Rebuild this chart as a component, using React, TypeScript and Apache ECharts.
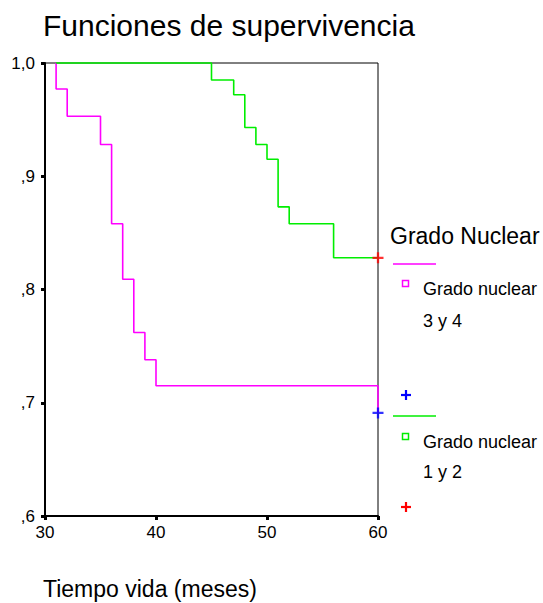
import React, { useEffect, useRef } from "react";
import * as echarts from "echarts";

// Kaplan-Meier curves (time in months, survival proportion after each step)
const magentaTimes = [31, 31, 32, 35, 36, 37, 38, 39, 40, 60];
const magentaSurv = [1.0, 0.977, 0.953, 0.928, 0.858, 0.809, 0.762, 0.738, 0.715, 0.691];
const greenTimes = [31, 45, 47, 48, 49, 50, 51, 52, 56, 60];
const greenSurv = [1.0, 0.985, 0.972, 0.943, 0.928, 0.915, 0.873, 0.858, 0.828, 0.828];
// censored marks
const censorBlue = [[60, 0.691]];
const censorRed = [[60, 0.828]];

const xTicks = [30, 40, 50, 60];
const yTickLabels: Record<string, string> = { "0.6": ",6", "0.7": ",7", "0.8": ",8", "0.9": ",9", "1": "1,0" };

const titleText = "Funciones de supervivencia";
const xName = "Tiempo vida (meses)";
const legendTitle = "Grado Nuclear";
const legendItems = ["Grado nuclear", "3 y 4", "Grado nuclear", "1 y 2"];

const FONT = "'Liberation Sans', Arial, sans-serif";
const CROSS = "path://M0,4.75H12V7.25H0ZM4.75,0H7.25V12H4.75Z";

export default function App() {
  const ref = useRef<HTMLDivElement>(null);
  useEffect(() => {
    if (!ref.current) return;
    const chart = echarts.init(ref.current, undefined, { renderer: "svg" });
    const mag = magentaTimes.map((t, i) => [t, magentaSurv[i]]);
    const grn = greenTimes.map((t, i) => [t, greenSurv[i]]);
    const txt = (text: string, x: number, y: number, size: number, extra: any = {}) => ({
      type: "text",
      x,
      y,
      ...extra,
      style: { text, fill: "#000", font: `${size}px ${FONT}`, verticalAlign: "middle", align: "left" },
    });
    const cross = (cx: number, cy: number, color: string) => ({
      type: "group",
      children: [
        { type: "line", shape: { x1: cx - 5, y1: cy, x2: cx + 5, y2: cy }, style: { stroke: color, lineWidth: 2.2 } },
        { type: "line", shape: { x1: cx, y1: cy - 5, x2: cx, y2: cy + 5 }, style: { stroke: color, lineWidth: 2.2 } },
      ],
    });
    chart.setOption({
      animation: false,
      backgroundColor: "#fff",
      grid: { left: 45, top: 63, width: 333, height: 453, show: true, borderColor: "#000", borderWidth: 1, backgroundColor: "transparent" },
      xAxis: {
        type: "value",
        min: 30,
        max: 60,
        interval: 10,
        splitLine: { show: false },
        axisLine: { lineStyle: { color: "#000", width: 2 } },
        axisTick: { show: true, length: 4, lineStyle: { color: "#000", width: 3 } },
        axisLabel: {
          color: "#000",
          fontSize: 17,
          fontFamily: FONT,
          margin: 8,
          formatter: (v: number) => (xTicks.includes(v) ? String(v) : ""),
        },
      },
      yAxis: {
        type: "value",
        min: 0.6,
        max: 1.0,
        interval: 0.1,
        splitLine: { show: false },
        axisLine: { lineStyle: { color: "#000", width: 2 } },
        axisTick: { show: true, length: 4, lineStyle: { color: "#000", width: 3 } },
        axisLabel: {
          color: "#000",
          fontSize: 17,
          fontFamily: FONT,
          margin: 10,
          formatter: (v: number) => yTickLabels[String(Math.round(v * 10) / 10)] ?? "",
        },
      },
      series: [
        { type: "line", data: mag, step: "end", showSymbol: false, clip: false, lineStyle: { color: "#ff00ff", width: 1.6 }, z: 3 },
        { type: "line", data: grn, step: "end", showSymbol: false, clip: false, lineStyle: { color: "#00ee00", width: 1.6 }, z: 3 },
        { type: "scatter", data: censorBlue, symbol: CROSS, symbolSize: 11, clip: false, itemStyle: { color: "#0000ff" }, z: 5 },
        { type: "scatter", data: censorRed, symbol: CROSS, symbolSize: 11, clip: false, itemStyle: { color: "#ff0000" }, z: 5 },
      ],
      graphic: [
        txt(titleText, 43, 25, 30),
        txt(xName, 43, 589, 23),
        txt(legendTitle, 390, 236, 23),
        { type: "line", shape: { x1: 393, y1: 264, x2: 436, y2: 264 }, style: { stroke: "#ff00ff", lineWidth: 1.6 } },
        { type: "rect", shape: { x: 402.5, y: 280.5, width: 6, height: 6 }, style: { stroke: "#ff00ff", fill: "#fff", lineWidth: 1.5 } },
        txt(legendItems[0], 423, 288.5, 18),
        txt(legendItems[1], 423, 321, 18),
        cross(406, 395, "#0000ff"),
        { type: "line", shape: { x1: 393, y1: 416, x2: 436, y2: 416 }, style: { stroke: "#00ee00", lineWidth: 1.6 } },
        { type: "rect", shape: { x: 402.5, y: 433.5, width: 6, height: 6 }, style: { stroke: "#00ee00", fill: "#fff", lineWidth: 1.5 } },
        txt(legendItems[2], 423, 441.5, 18),
        txt(legendItems[3], 423, 471.5, 18),
        cross(406, 507, "#ff0000"),
      ],
    });
    return () => chart.dispose();
  }, []);
  return <div ref={ref} style={{ position: "fixed", left: 0, top: 0, width: 543, height: 603 }} />;
}
